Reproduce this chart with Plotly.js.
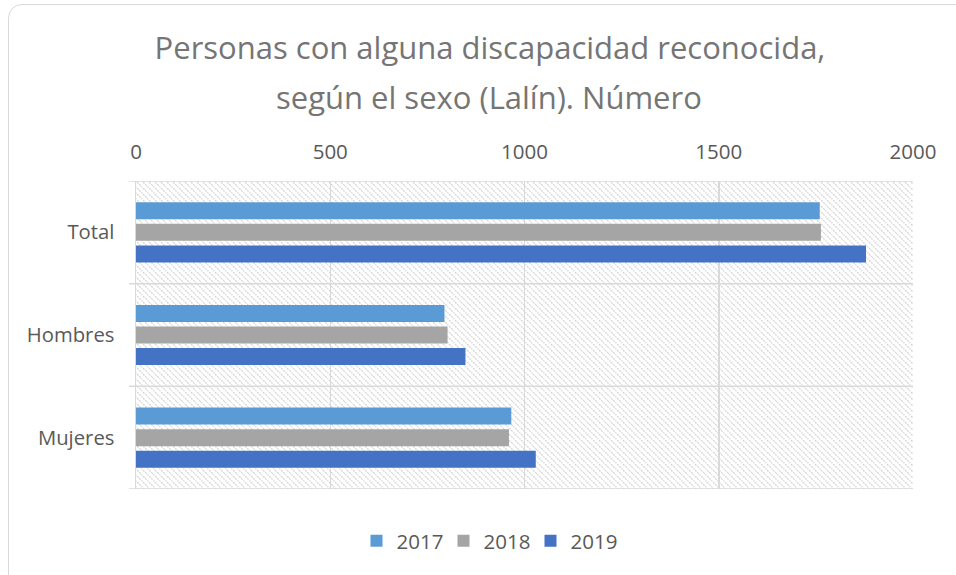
<!DOCTYPE html>
<html>
<head>
<meta charset="utf-8">
<script src="https://cdn.plot.ly/plotly-3.0.1.min.js"></script>
<style>
  html, body { margin: 0; padding: 0; background: #ffffff; }
  #wrap { position: relative; width: 956px; height: 575px; overflow: hidden; }
  #frame { position: absolute; left: 8px; top: 4px; width: 970px; height: 590px;
           border: 1.5px solid #d9d9d9; border-radius: 14px; box-sizing: border-box; }
  #chart { position: absolute; left: 0; top: 0; width: 956px; height: 575px; }
</style>
</head>
<body>
<div id="wrap">
  <div id="frame"></div>
  <div id="chart"></div>
</div>
<script>
// ---- Data ----
const categories = ["Total", "Hombres", "Mujeres"];
const years = ["2017", "2018", "2019"];
const values2017 = [1760, 794, 966];
const values2018 = [1763, 802, 960];
const values2019 = [1879, 848, 1029];
const xTicks = [0, 500, 1000, 1500, 2000];
const titleLine1 = "Personas con alguna discapacidad reconocida,";
const titleLine2 = "según el sexo (Lalín). Número";

const colors = ["#5B9BD5", "#A5A5A5", "#4472C4"];
const seriesValues = [values2017, values2018, values2019];

const traces = years.map((yr, i) => ({
  type: "bar",
  orientation: "h",
  name: yr,
  y: categories,
  x: seriesValues[i],
  marker: { color: colors[i], line: { width: 0 } },
  hoverinfo: "x+name"
}));

// Hatched plot background (SVG pattern image)
const W = 777, H = 308;
const svg = "<svg xmlns='http://www.w3.org/2000/svg' width='" + W + "' height='" + H + "'>" +
  "<defs><pattern id='p' width='6' height='6' patternUnits='userSpaceOnUse'>" +
  "<path d='M-1,-1 L7,7 M-1,5 L1,7 M5,-1 L7,1' stroke='#d2d2d2' stroke-width='1.2' stroke-dasharray='2,1'/>" +
  "</pattern></defs><rect width='100%' height='100%' fill='white'/><rect width='100%' height='100%' fill='url(#p)'/></svg>";
const bgSrc = "data:image/svg+xml;charset=utf-8," + encodeURIComponent(svg);

const sepLines = [-0.5, 0.5, 1.5, 2.5].map(v => ({
  type: "line", xref: "paper", yref: "y",
  x0: -0.009, x1: 1, y0: v, y1: v,
  line: { color: "#d9d9d9", width: 1.5 }, layer: "above"
}));

const font = "'Open Sans', 'Segoe UI', Calibri, sans-serif";

const layout = {
  width: 956, height: 575,
  margin: { l: 136, r: 43, t: 181, b: 86 },
  paper_bgcolor: "rgba(0,0,0,0)",
  plot_bgcolor: "rgba(0,0,0,0)",
  font: { family: font, color: "#595959", size: 20 },
  title: {
    text: titleLine1,
    font: { family: font, size: 31, color: "#757575" },
    x: 490 / 956, xanchor: "center", xref: "container",
    y: 1 - 48 / 575, yanchor: "middle", yref: "container"
  },
  annotations: [{
    text: titleLine2, showarrow: false,
    xref: "paper", yref: "paper",
    x: (489 - 136) / 777, xanchor: "center",
    y: (575 - 86 - 97) / 308, yanchor: "middle",
    font: { family: font, size: 31, color: "#757575" }
  }],
  barmode: "group",
  bargap: 0.37,
  bargroupgap: 0.21,
  xaxis: {
    side: "top",
    range: [0, 2000],
    tickvals: xTicks,
    ticktext: xTicks.map(String),
    showgrid: true, gridcolor: "#d9d9d9", gridwidth: 1.5,
    zeroline: false, showline: false,
    ticks: "", ticklabelstandoff: 17,
    tickfont: { size: 20.5, color: "#595959" },
    fixedrange: true
  },
  yaxis: {
    type: "category",
    categoryorder: "array", categoryarray: categories,
    range: [2.5, -0.5],
    showgrid: false, zeroline: false,
    showline: true, linecolor: "#d9d9d9", linewidth: 1.5,
    ticks: "", ticklabelstandoff: 16,
    tickfont: { size: 20.3, color: "#595959" },
    fixedrange: true
  },
  shapes: sepLines,
  images: [{
    source: bgSrc, xref: "paper", yref: "paper",
    x: 0, y: 1, sizex: 1, sizey: 1,
    xanchor: "left", yanchor: "top",
    sizing: "stretch", layer: "below"
  }],
  legend: {
    orientation: "h",
    x: (487 - 136) / 777, xanchor: "center",
    y: (575 - 86 - 541) / 308, yanchor: "middle",
    traceorder: "normal",
    font: { size: 20.5, color: "#595959" },
    entrywidth: 42, entrywidthmode: "pixels",
    itemwidth: 30,
    itemclick: false, itemdoubleclick: false
  },
  showlegend: true
};

Plotly.newPlot("chart", traces, layout, { displayModeBar: false, staticPlot: true });
</script>
</body>
</html>
